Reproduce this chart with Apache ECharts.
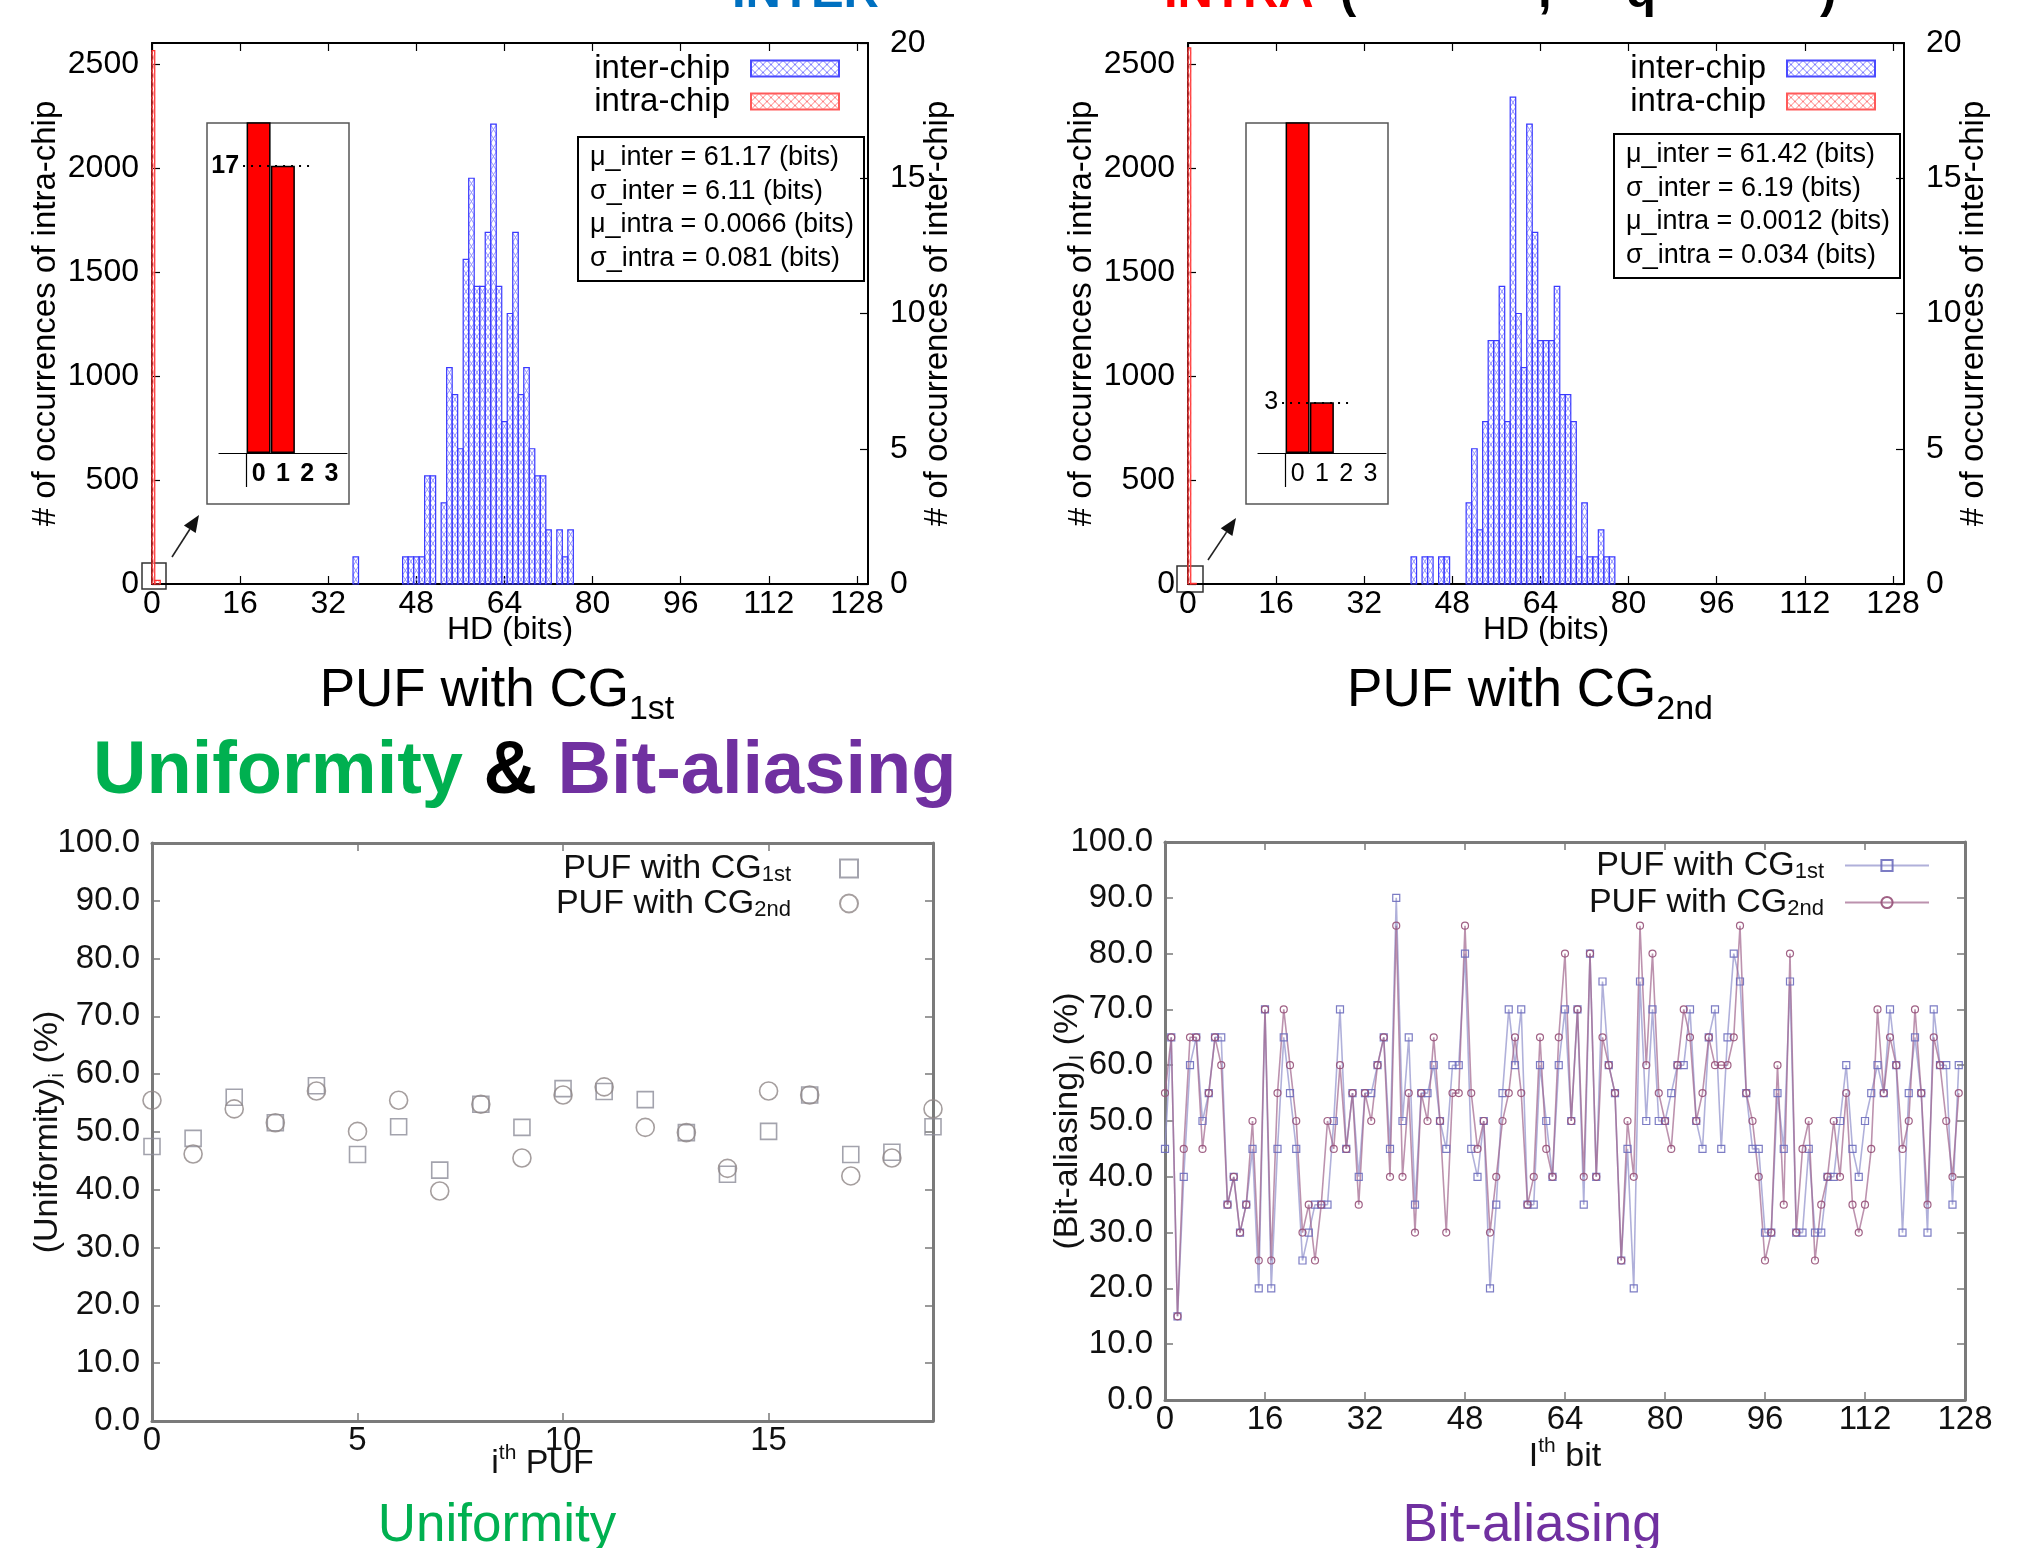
<!DOCTYPE html>
<html lang="en">
<head>
<meta charset="UTF-8">
<title>PUF HD distribution, uniformity and bit-aliasing</title>
<script src="https://cdn.jsdelivr.net/npm/echarts@6.0.0/dist/echarts.min.js"></script>
<style>
  html, body { margin: 0; padding: 0; background: #fff; }
  #main { width: 2023px; height: 1548px; }
</style>
</head>
<body>
<div id="main"></div>
<script>
// ---- HD histograms (inter-chip counts on right axis, intra-chip on left) ----
var hdInter1 = [37, 46, 47, 48, 49, 50, 51, 53, 54, 55, 56, 57, 58, 59, 60, 61, 62, 63, 64, 65, 66, 67, 68, 69, 70, 71, 72, 74, 75, 76];
var cntInter1 = [1, 1, 1, 1, 1, 4, 4, 3, 8, 7, 5, 12, 15, 11, 11, 13, 17, 11, 6, 10, 13, 7, 8, 5, 4, 4, 2, 2, 1, 2];
var hdInter2 = [41, 43, 44, 46, 47, 51, 52, 53, 54, 55, 56, 57, 58, 59, 60, 61, 62, 63, 64, 65, 66, 67, 68, 69, 70, 71, 72, 73, 74, 75, 76, 77];
var cntInter2 = [1, 1, 1, 1, 1, 3, 5, 2, 6, 9, 9, 11, 6, 18, 10, 8, 17, 13, 9, 9, 9, 11, 7, 7, 6, 1, 3, 1, 1, 2, 1, 1];
var hdIntra = [0, 1];
var cntIntra1 = [2563, 17];
var cntIntra2 = [2577, 3];

var hdTicks = [0, 16, 32, 48, 64, 80, 96, 112, 128];
var leftTicks = [0, 500, 1000, 1500, 2000, 2500];
var insetTicks = [0, 1, 2, 3];

var stats1 = ['μ_inter = 61.17 (bits)', 'σ_inter = 6.11 (bits)', 'μ_intra = 0.0066 (bits)', 'σ_intra = 0.081 (bits)'];
var stats2 = ['μ_inter = 61.42 (bits)', 'σ_inter = 6.19 (bits)', 'μ_intra = 0.0012 (bits)', 'σ_intra = 0.034 (bits)'];

// ---- uniformity per PUF ----
var pufIdx = [0, 1, 2, 3, 4, 5, 6, 7, 8, 9, 10, 11, 12, 13, 14, 15, 16, 17, 18, 19];
var unif1 = [47.5, 48.9, 56.0, 51.6, 58.0, 46.1, 50.9, 43.4, 54.8, 50.8, 57.5, 57.0, 55.6, 49.9, 42.7, 50.1, 56.4, 46.1, 46.5, 50.9];
var unif2 = [55.5, 46.2, 54.0, 51.6, 57.1, 50.1, 55.5, 39.8, 54.8, 45.5, 56.4, 57.8, 50.8, 49.9, 43.7, 57.1, 56.4, 42.4, 45.5, 54.0];
var pufTicks = [0, 5, 10, 15];

// ---- bit-aliasing per bit (0..127) ----
var alias1 = [45, 65, 15, 40, 60, 65, 50, 55, 65, 65,
  35, 40, 30, 35, 45, 20, 70, 20, 45, 65,
  55, 45, 25, 30, 35, 35, 35, 50, 70, 45,
  55, 40, 55, 55, 60, 65, 45, 90, 50, 65,
  35, 55, 55, 60, 50, 45, 60, 60, 80, 45,
  40, 50, 20, 35, 55, 70, 60, 70, 35, 35,
  60, 50, 40, 60, 70, 50, 70, 35, 80, 40,
  75, 60, 55, 25, 45, 20, 75, 50, 70, 50,
  50, 55, 60, 60, 70, 50, 45, 65, 70, 45,
  65, 80, 75, 55, 45, 45, 30, 30, 55, 45,
  75, 30, 30, 45, 30, 30, 40, 40, 50, 60,
  45, 40, 50, 55, 60, 55, 70, 60, 30, 55,
  65, 55, 30, 70, 60, 60, 35, 60];
var alias2 = [55, 65, 15, 45, 65, 65, 45, 55, 65, 60,
  35, 40, 30, 35, 50, 25, 70, 25, 55, 70,
  60, 50, 30, 35, 25, 35, 50, 45, 60, 45,
  55, 35, 55, 50, 60, 65, 40, 85, 40, 55,
  30, 55, 50, 65, 50, 30, 55, 55, 85, 55,
  45, 50, 30, 40, 50, 55, 65, 55, 35, 40,
  65, 45, 40, 65, 80, 50, 70, 40, 80, 40,
  65, 60, 55, 25, 50, 40, 85, 60, 80, 55,
  50, 45, 60, 70, 65, 50, 55, 65, 60, 60,
  60, 65, 85, 55, 50, 40, 25, 30, 60, 35,
  80, 30, 45, 50, 25, 35, 40, 50, 40, 55,
  35, 30, 35, 45, 70, 55, 65, 60, 45, 50,
  70, 55, 35, 65, 60, 50, 40, 55];
var bitTicks = [0, 16, 32, 48, 64, 80, 96, 112, 128];

var legendText = {
  u1: 'PUF with CG{s|1st}{g| }', u2: 'PUF with CG{s|2nd}{g| }',
  b1: 'PUF with CG{s|1st}{h| }', b2: 'PUF with CG{s|2nd}{h| }'
};

var FONT = 'Liberation Sans, Arial, Helvetica, sans-serif';

function zip(xs, ys) {
  return xs.map(function (x, i) { return [x, ys[i]]; });
}

function hatchCanvas(col) {
  var c = document.createElement('canvas');
  c.width = 8; c.height = 8;
  var g = c.getContext('2d');
  g.strokeStyle = col; g.lineWidth = 1;
  g.beginPath();
  g.moveTo(0, 0); g.lineTo(8, 8);
  g.moveTo(8, 0); g.lineTo(0, 8);
  g.stroke();
  return c;
}

// zigzag used for the cross-hatch inside one histogram box
function zigzag(x0, x1, yb, yt, fromLeft) {
  var step = 9, pts = [], left = fromLeft, y = yb;
  pts.push([left ? x0 : x1, y]);
  while (y - step > yt) {
    y -= step; left = !left;
    pts.push([left ? x0 : x1, y]);
  }
  var last = pts[pts.length - 1][0];
  var next = left ? x1 : x0;
  var f = (y - yt) / step;
  pts.push([last + (next - last) * f, yt]);
  return pts;
}

function hatchedBars(edge, hatch) {
  return function (params, api) {
    var x = api.value(0), n = api.value(1);
    if (!n) return null;
    var a = api.coord([x - 0.5, n]);
    var b = api.coord([x + 0.5, 0]);
    var r = echarts.graphic.clipRectByRect(
      { x: a[0], y: a[1], width: b[0] - a[0], height: b[1] - a[1] }, params.coordSys);
    if (!r || r.height <= 0 || r.width <= 0) return null;
    var x0 = r.x, x1 = r.x + r.width, yb = r.y + r.height, yt = r.y;
    return {
      type: 'group',
      children: [
        { type: 'polyline', shape: { points: zigzag(x0, x1, yb, yt, true) }, style: { stroke: hatch, lineWidth: 0.9, fill: null } },
        { type: 'polyline', shape: { points: zigzag(x0, x1, yb, yt, false) }, style: { stroke: hatch, lineWidth: 0.9, fill: null } },
        { type: 'rect', shape: r, style: { stroke: edge, lineWidth: 1.2, fill: null } }
      ]
    };
  };
}

var blueHatch = { image: hatchCanvas('#7f7fff'), repeat: 'repeat' };
var redHatch = { image: hatchCanvas('#ff8080'), repeat: 'repeat' };

// ---- axis helpers ----
function histXAxes(grid) {
  return [{
    gridIndex: grid, type: 'value', min: 0, max: 130, position: 'bottom',
    axisLine: { onZero: false, lineStyle: { color: '#000', width: 2 } },
    axisTick: { inside: true, length: 8, customValues: hdTicks, lineStyle: { color: '#000', width: 1.2 } },
    axisLabel: { customValues: hdTicks, fontSize: 32, color: '#000', margin: 4, fontFamily: FONT },
    splitLine: { show: false },
    name: 'HD (bits)', nameLocation: 'middle', nameGap: 30, nameMoveOverlap: false,
    nameTextStyle: { fontSize: 32, color: '#000', fontFamily: FONT }
  }, {
    gridIndex: grid, type: 'value', min: 0, max: 130, position: 'top',
    axisLine: { onZero: false, lineStyle: { color: '#000', width: 2 } },
    axisTick: { inside: true, length: 8, customValues: hdTicks, lineStyle: { color: '#000', width: 1.2 } },
    axisLabel: { show: false }, splitLine: { show: false }
  }];
}

function histYAxes(grid) {
  return [{
    gridIndex: grid, type: 'value', min: 0, max: 2600, position: 'left',
    axisLine: { onZero: false, lineStyle: { color: '#000', width: 2 } },
    axisTick: { inside: true, length: 8, customValues: leftTicks, lineStyle: { color: '#000', width: 1.2 } },
    axisLabel: { customValues: leftTicks, fontSize: 32, color: '#000', margin: 13, fontFamily: FONT,
      formatter: function (v) { return String(v); } },
    splitLine: { show: false },
    name: '# of occurrences of intra-chip', nameLocation: 'middle', nameRotate: 90, nameGap: 90, nameMoveOverlap: false,
    nameTextStyle: { fontSize: 33, color: '#000', fontFamily: FONT, lineHeight: 33 }
  }, {
    gridIndex: grid, type: 'value', min: 0, max: 20, interval: 5, position: 'right',
    axisLine: { onZero: false, lineStyle: { color: '#000', width: 2 } },
    axisTick: { inside: true, length: 8, lineStyle: { color: '#000', width: 1.2 } },
    axisLabel: { fontSize: 32, color: '#000', margin: 22, fontFamily: FONT },
    splitLine: { show: false },
    name: '# of occurrences of inter-chip', nameLocation: 'middle', nameRotate: 90, nameGap: 53, nameMoveOverlap: false,
    nameTextStyle: { fontSize: 33, color: '#000', fontFamily: FONT, lineHeight: 33 }
  }];
}

function insetXAxis(grid, bold) {
  return {
    gridIndex: grid, type: 'value', min: -1.63, max: 3.64, position: 'bottom',
    axisLine: { onZero: false, lineStyle: { color: '#000', width: 1.2 } },
    axisTick: { show: false }, splitLine: { show: false },
    axisLabel: { customValues: insetTicks, fontSize: 25, fontWeight: bold ? 'bold' : 'normal', color: '#000', margin: 9, fontFamily: FONT }
  };
}

function insetYAxis(grid) {
  return { gridIndex: grid, type: 'value', min: 0, max: 19.53, show: false, splitLine: { show: false } };
}

var GRAY = '#7a7a7a';
function lowerX(grid, max, ticks, name, gap) {
  return [{
    gridIndex: grid, type: 'value', min: 0, max: max, position: 'bottom',
    axisLine: { onZero: false, lineStyle: { color: GRAY, width: 3 } },
    axisTick: { inside: true, length: 8, customValues: ticks, lineStyle: { color: GRAY, width: 1.5 } },
    axisLabel: { customValues: ticks, fontSize: 33, color: '#111', margin: 3, fontFamily: FONT },
    splitLine: { show: false },
    name: name, nameLocation: 'middle', nameGap: gap, nameMoveOverlap: false,
    nameTextStyle: { fontSize: 34, color: '#111', fontFamily: FONT, lineHeight: 42,
      rich: { p: { fontSize: 21, lineHeight: 21, verticalAlign: 'top', color: '#111', fontFamily: FONT } } }
  }, {
    gridIndex: grid, type: 'value', min: 0, max: max, position: 'top',
    axisLine: { onZero: false, lineStyle: { color: GRAY, width: 3 } },
    axisTick: { inside: true, length: 8, customValues: ticks, lineStyle: { color: GRAY, width: 1.5 } },
    axisLabel: { show: false }, splitLine: { show: false }
  }];
}

function lowerY(grid, name, gap) {
  return [{
    gridIndex: grid, type: 'value', min: 0, max: 100, interval: 10, position: 'left',
    axisLine: { onZero: false, lineStyle: { color: GRAY, width: 3 } },
    axisTick: { inside: true, length: 8, lineStyle: { color: GRAY, width: 1.5 } },
    axisLabel: { fontSize: 33, color: '#111', margin: 12, fontFamily: FONT, formatter: function (v) { return v.toFixed(1); } },
    splitLine: { show: false },
    name: name, nameLocation: 'middle', nameRotate: 90, nameGap: gap, nameMoveOverlap: false,
    nameTextStyle: { fontSize: 34, color: '#111', fontFamily: FONT, lineHeight: 40,
      rich: { s: { fontSize: 21, lineHeight: 21, verticalAlign: 'bottom', color: '#111', fontFamily: FONT } } }
  }, {
    gridIndex: grid, type: 'value', min: 0, max: 100, interval: 10, position: 'right',
    axisLine: { onZero: false, lineStyle: { color: GRAY, width: 3 } },
    axisTick: { inside: true, length: 8, lineStyle: { color: GRAY, width: 1.5 } },
    axisLabel: { show: false }, splitLine: { show: false }
  }];
}

function insetMarks(val, bold) {
  return {
    symbol: ['none', 'none'], silent: true, animation: false,
    data: [
      [{ coord: [-0.64, val], lineStyle: { type: [2, 6], color: '#000', width: 2 },
         label: { show: true, position: 'start', formatter: String(val), fontSize: 25, fontWeight: bold ? 'bold' : 'normal', color: '#000', distance: 4, fontFamily: FONT } },
       { coord: [2.12, val] }]
    ]
  };
}

function arrow(x1, y1, x2, y2) {
  var dx = x2 - x1, dy = y2 - y1, L = Math.sqrt(dx * dx + dy * dy);
  var ux = dx / L, uy = dy / L, hl = 17, hw = 7;
  var bx = x2 - ux * hl, by = y2 - uy * hl;
  return [
    { type: 'line', shape: { x1: x1, y1: y1, x2: bx, y2: by }, style: { stroke: '#222', lineWidth: 1.6 } },
    { type: 'polygon', shape: { points: [[x2, y2], [bx - uy * hw, by + ux * hw], [bx + uy * hw, by - ux * hw]] }, style: { fill: '#111' } }
  ];
}

function txt(x, y, text, size, color, weight, align, rich) {
  return {
    type: 'text', x: x, y: y, silent: true,
    style: {
      text: text, fill: color, fontSize: size, fontWeight: weight || 'normal', fontFamily: FONT,
      align: align || 'left', verticalAlign: 'middle', textAlign: align || 'left', textVerticalAlign: 'middle',
      rich: rich
    }
  };
}

function cut(x, text, color) {
  return { type: 'text', x: x, y: 18, silent: true,
    style: { text: text, fill: color, fontSize: 49, fontWeight: 'bold', fontFamily: FONT, verticalAlign: 'bottom', textVerticalAlign: 'bottom' } };
}

var capRich = {
  m: { fontSize: 53, lineHeight: 72, fontFamily: FONT, fill: '#000', color: '#000' },
  s: { fontSize: 34, lineHeight: 34, verticalAlign: 'bottom', fontFamily: FONT, fill: '#000', color: '#000' }
};
var headRich = {
  g: { fontSize: 74, fontWeight: 'bold', fontFamily: FONT, fill: '#00b050', color: '#00b050' },
  k: { fontSize: 74, fontWeight: 'bold', fontFamily: FONT, fill: '#000', color: '#000' },
  p: { fontSize: 74, fontWeight: 'bold', fontFamily: FONT, fill: '#7030a0', color: '#7030a0' }
};

var myChart = echarts.init(document.getElementById('main'), null, { renderer: 'canvas' });

var gridBase = { containLabel: false, outerBoundsMode: 'none' };
function grid(l, t, w, h) {
  return Object.assign({ left: l, top: t, width: w, height: h }, gridBase);
}

var legendBase = { orient: 'vertical', align: 'right', selectedMode: false };

var option = {
  animation: false,
  backgroundColor: '#fff',
  textStyle: { fontFamily: FONT },
  grid: [
    grid(152, 43, 716, 541),     // 0 HD, CG 1st
    grid(219, 123, 128, 330),    // 1 inset 1
    grid(1188, 43, 716, 541),    // 2 HD, CG 2nd
    grid(1258, 123, 128, 330),   // 3 inset 2
    grid(152, 843, 781, 578),    // 4 uniformity
    grid(1165, 842, 800, 558)    // 5 bit-aliasing
  ],
  xAxis: [].concat(
    histXAxes(0),
    [insetXAxis(1, true)],
    histXAxes(2),
    [insetXAxis(3, false)],
    lowerX(4, 19, pufTicks, 'i{p|th} PUF', 22),
    lowerX(5, 128, bitTicks, 'I{p|th} bit', 36)
  ),
  yAxis: [].concat(
    histYAxes(0),
    [insetYAxis(1)],
    histYAxes(2),
    [insetYAxis(3)],
    lowerY(4, '(Uniformity){s|i} (%)', 84),
    lowerY(5, '(Bit-aliasing){s|I} (%)', 77)
  ),
  title: [
    { text: stats1.join('\n'), left: 578, top: 137, padding: [4, 10, 6, 12], borderColor: '#000', borderWidth: 2,
      textStyle: { fontSize: 27, lineHeight: 33.5, fontWeight: 'normal', color: '#000', fontFamily: FONT } },
    { text: stats2.join('\n'), left: 1614, top: 134, padding: [4, 10, 6, 12], borderColor: '#000', borderWidth: 2,
      textStyle: { fontSize: 27, lineHeight: 33.5, fontWeight: 'normal', color: '#000', fontFamily: FONT } }
  ],
  legend: [
    Object.assign({ data: ['inter-chip', 'intra-chip'], right: 1178, top: 47, icon: 'rect',
      itemWidth: 88, itemHeight: 16, itemGap: 0,
      formatter: function (n) { return n + '{g| }'; },
      textStyle: { fontSize: 33, lineHeight: 33, color: '#000', fontFamily: FONT, rich: { g: { width: 16 } } } }, legendBase),
    Object.assign({ data: ['inter-chip', 'intra-chip'], right: 142, top: 47, icon: 'rect',
      itemWidth: 88, itemHeight: 16, itemGap: 0,
      formatter: function (n) { return n + '{g| }'; },
      textStyle: { fontSize: 33, lineHeight: 33, color: '#000', fontFamily: FONT, rich: { g: { width: 16 } } } }, legendBase),
    Object.assign({ data: ['u1', 'u2'], right: 1159, top: 846,
      itemWidth: 18, itemHeight: 18, itemGap: 0,
      formatter: function (n) { return legendText[n]; },
      textStyle: { fontSize: 34, lineHeight: 35, color: '#111', fontFamily: FONT,
        rich: { s: { fontSize: 22, lineHeight: 22, verticalAlign: 'bottom', color: '#111', fontFamily: FONT }, g: { width: 44 } } } }, legendBase),
    Object.assign({ data: ['b1', 'b2'], right: 88, top: 843,
      itemWidth: 84, itemHeight: 14, itemGap: 2,
      formatter: function (n) { return legendText[n]; },
      textStyle: { fontSize: 34, lineHeight: 35, color: '#111', fontFamily: FONT,
        rich: { s: { fontSize: 22, lineHeight: 22, verticalAlign: 'bottom', color: '#111', fontFamily: FONT }, h: { width: 16 } } } }, legendBase)
  ],
  series: [
    // HD, CG 1st
    { name: 'inter-chip', type: 'custom', xAxisIndex: 0, yAxisIndex: 1,
      renderItem: hatchedBars('#3a3aff', '#8c8cff'), encode: { x: 0, y: 1 },
      itemStyle: { color: blueHatch, borderColor: '#4a4aff', borderWidth: 1.5 },
      data: zip(hdInter1, cntInter1) },
    { name: 'intra-chip', type: 'custom', xAxisIndex: 0, yAxisIndex: 0,
      renderItem: hatchedBars('#ff3030', '#ff9a9a'), encode: { x: 0, y: 1 },
      itemStyle: { color: redHatch, borderColor: '#ff5a5a', borderWidth: 1.5 },
      data: zip(hdIntra, cntIntra1) },
    { name: 'zoom-1', type: 'bar', xAxisIndex: 2, yAxisIndex: 2, barWidth: 24, clip: true,
      itemStyle: { color: '#ff0000', borderColor: '#000', borderWidth: 1.5 },
      data: zip(hdIntra, cntIntra1), markLine: insetMarks(cntIntra1[1], true) },
    // HD, CG 2nd
    { name: 'inter-chip', type: 'custom', xAxisIndex: 3, yAxisIndex: 4,
      renderItem: hatchedBars('#3a3aff', '#8c8cff'), encode: { x: 0, y: 1 },
      itemStyle: { color: blueHatch, borderColor: '#4a4aff', borderWidth: 1.5 },
      data: zip(hdInter2, cntInter2) },
    { name: 'intra-chip', type: 'custom', xAxisIndex: 3, yAxisIndex: 3,
      renderItem: hatchedBars('#ff3030', '#ff9a9a'), encode: { x: 0, y: 1 },
      itemStyle: { color: redHatch, borderColor: '#ff5a5a', borderWidth: 1.5 },
      data: zip(hdIntra, cntIntra2) },
    { name: 'zoom-2', type: 'bar', xAxisIndex: 5, yAxisIndex: 5, barWidth: 24, clip: true,
      itemStyle: { color: '#ff0000', borderColor: '#000', borderWidth: 1.5 },
      data: zip(hdIntra, cntIntra2), markLine: insetMarks(cntIntra2[1], false) },
    // uniformity
    { name: 'u1', type: 'scatter', xAxisIndex: 6, yAxisIndex: 6, symbol: 'rect', symbolSize: 16,
      itemStyle: { color: 'rgba(0,0,0,0)', borderColor: '#8c8c98', borderWidth: 1.6 },
      data: zip(pufIdx, unif1) },
    { name: 'u2', type: 'scatter', xAxisIndex: 6, yAxisIndex: 6, symbol: 'circle', symbolSize: 18,
      itemStyle: { color: 'rgba(0,0,0,0)', borderColor: '#8e8686', borderWidth: 1.6 },
      data: zip(pufIdx, unif2) },
    // bit-aliasing
    { name: 'b1', type: 'line', xAxisIndex: 8, yAxisIndex: 8, symbol: 'rect', symbolSize: 7, showAllSymbol: true,
      lineStyle: { color: 'rgba(150,150,205,0.75)', width: 1.6 },
      itemStyle: { color: 'rgba(0,0,0,0)', borderColor: 'rgba(110,110,190,0.9)', borderWidth: 1.2 },
      data: zip(alias1.map(function (v, i) { return i; }), alias1) },
    { name: 'b2', type: 'line', xAxisIndex: 8, yAxisIndex: 8, symbol: 'circle', symbolSize: 7, showAllSymbol: true,
      lineStyle: { color: 'rgba(160,100,140,0.7)', width: 1.6 },
      itemStyle: { color: 'rgba(0,0,0,0)', borderColor: 'rgba(150,80,120,0.9)', borderWidth: 1.2 },
      data: zip(alias2.map(function (v, i) { return i; }), alias2) }
  ],
  graphic: [].concat(
    [
      // headings cut by the top edge
      cut(732, 'INTER', '#0070c0'),
      cut(1164, 'INTRA', '#ff0000'),
      cut(1340, '(', '#000'),
      cut(1538, ',', '#000'),
      cut(1626, 'q', '#000'),
      cut(1820, ')', '#000'),
      // inset frames, their y-axis stubs and the little boxes at the origin
      { type: 'rect', silent: true, shape: { x: 207, y: 123, width: 142, height: 381 }, style: { fill: null, stroke: '#555', lineWidth: 1.5 } },
      { type: 'rect', silent: true, shape: { x: 1246, y: 123, width: 142, height: 381 }, style: { fill: null, stroke: '#555', lineWidth: 1.5 } },
      { type: 'line', silent: true, shape: { x1: 246.5, y1: 453, x2: 246.5, y2: 487 }, style: { stroke: '#000', lineWidth: 1.2 } },
      { type: 'line', silent: true, shape: { x1: 1285.5, y1: 453, x2: 1285.5, y2: 487 }, style: { stroke: '#000', lineWidth: 1.2 } },
      { type: 'rect', silent: true, shape: { x: 142, y: 563, width: 24, height: 26 }, style: { fill: null, stroke: '#333', lineWidth: 1.5 } },
      { type: 'rect', silent: true, shape: { x: 1177, y: 566, width: 26, height: 26 }, style: { fill: null, stroke: '#333', lineWidth: 1.5 } },
      // captions
      txt(497, 691, '{m|PUF with CG}{s|1st}', 53, '#000', 'normal', 'center', capRich),
      txt(1530, 691, '{m|PUF with CG}{s|2nd}', 53, '#000', 'normal', 'center', capRich),
      txt(93, 773, '{g|Uniformity}{k| & }{p|Bit-aliasing}', 74, '#000', 'bold', 'left', headRich),
      txt(497, 1526, 'Uniformity', 53, '#00b050', 'normal', 'center'),
      txt(1532, 1526, 'Bit-aliasing', 53, '#7030a0', 'normal', 'center')
    ],
    arrow(172, 557, 199, 515),
    arrow(1208, 560, 1236, 518)
  )
};

myChart.setOption(option);
</script>
</body>
</html>
